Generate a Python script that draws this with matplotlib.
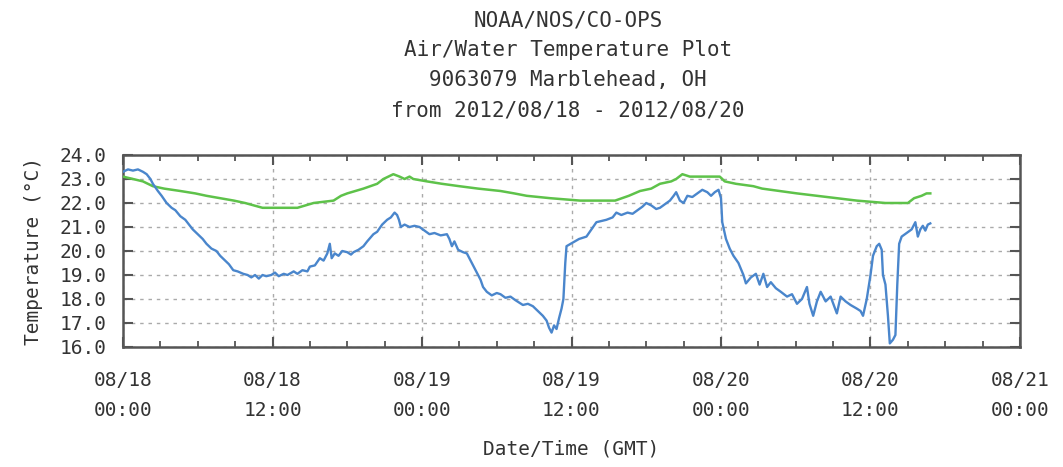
import numpy as np
import matplotlib
matplotlib.use('Agg')
import matplotlib.pyplot as plt
from matplotlib.ticker import MultipleLocator

# hours since 2012/08/18 00:00 GMT
air_t = [0.0, 0.4, 0.8, 1.2, 1.6, 1.9, 2.2, 2.4, 2.8, 3.1, 3.5, 3.9, 4.2, 4.6, 5.0, 5.3, 5.6, 6.0, 6.4, 6.7,
         7.1, 7.5, 7.8, 8.2, 8.5, 8.85, 9.2, 9.65, 10.0, 10.3, 10.6, 10.9, 11.2, 11.5, 11.9, 12.2, 12.5, 12.9,
         13.2, 13.7, 14.0, 14.4, 14.8, 15.0, 15.4, 15.8, 16.1, 16.4, 16.6, 16.75, 17.0, 17.3, 17.6, 18.0, 18.3,
         18.5, 18.9, 19.3, 19.6, 20.1, 20.4, 20.8, 21.2, 21.5, 21.8, 22.0, 22.15, 22.3, 22.6, 23.0, 23.4, 23.8,
         24.2, 24.6, 25.0, 25.5, 26.0, 26.2, 26.4, 26.6, 26.9, 27.3, 27.6, 28.0, 28.4, 28.7, 28.9, 29.2, 29.6,
         30.0, 30.3, 30.7, 31.1, 31.5, 32.1, 32.5, 32.9, 33.3, 33.7, 34.0, 34.2, 34.4, 34.6, 34.8, 35.0, 35.2,
         35.35, 35.5, 35.6, 36.1, 36.6, 37.2, 37.6, 38.0, 38.4, 38.8, 39.3, 39.6, 40.0, 40.5, 40.9, 41.3, 41.7,
         42.0, 42.4, 42.8, 43.1, 43.5, 43.9, 44.2, 44.4, 44.7, 45.0, 45.3, 45.7, 46.1, 46.5, 46.9, 47.2, 47.5,
         47.8, 48.0, 48.1, 48.4, 48.7, 49.0, 49.4, 49.8, 50.0, 50.4, 50.8, 51.1, 51.4, 51.7, 52.0, 52.4, 52.8,
         53.3, 53.7, 54.1, 54.5, 54.9, 55.1, 55.4, 55.7, 56.0, 56.4, 56.8, 57.3, 57.6, 58.0, 58.4, 58.9, 59.2,
         59.4, 59.7, 60.0, 60.2, 60.5, 60.7, 60.9, 61.0, 61.2, 61.4, 61.55, 61.8, 62.0, 62.15, 62.3, 62.5, 62.9,
         63.3, 63.6, 63.8, 64.0, 64.2, 64.4, 64.6, 64.8]
air_v = [23.3, 23.4, 23.35, 23.4, 23.3, 23.2, 23.0, 22.8, 22.5, 22.3, 22.0, 21.8, 21.7, 21.45, 21.3, 21.1, 20.9,
         20.7, 20.5, 20.3, 20.1, 20.0, 19.8, 19.6, 19.45, 19.2, 19.15, 19.05, 19.0, 18.9, 19.0, 18.85, 19.0,
         18.95, 19.0, 19.1, 18.95, 19.05, 19.0, 19.15, 19.05, 19.2, 19.15, 19.35, 19.4, 19.7, 19.6, 19.9, 20.3,
         19.7, 19.9, 19.8, 20.0, 19.95, 19.85, 19.95, 20.05, 20.2, 20.4, 20.7, 20.8, 21.1, 21.3, 21.4, 21.6,
         21.5, 21.3, 21.0, 21.1, 21.0, 21.05, 21.0, 20.85, 20.7, 20.75, 20.65, 20.7, 20.5, 20.2, 20.4, 20.05,
         19.95, 19.9, 19.5, 19.1, 18.8, 18.5, 18.3, 18.15, 18.25, 18.2, 18.05, 18.1, 17.95, 17.75, 17.8, 17.7,
         17.5, 17.3, 17.1, 16.8, 16.6, 16.9, 16.75, 17.2, 17.6, 18.0, 19.5, 20.2, 20.35, 20.5, 20.6, 20.9, 21.2,
         21.25, 21.3, 21.4, 21.6, 21.5, 21.6, 21.55, 21.7, 21.85, 22.0, 21.9, 21.75, 21.8, 21.95, 22.1, 22.3,
         22.45, 22.1, 22.0, 22.3, 22.25, 22.4, 22.55, 22.45, 22.3, 22.45, 22.55, 22.2, 21.2, 20.5, 20.1, 19.8,
         19.5, 19.0, 18.65, 18.9, 19.05, 18.6, 19.05, 18.5, 18.7, 18.45, 18.3, 18.1, 18.2, 17.8, 18.0, 18.5,
         17.8, 17.3, 17.9, 18.3, 17.9, 18.1, 17.4, 18.1, 17.9, 17.75, 17.6, 17.5, 17.3, 18.0, 19.0, 19.8, 20.2,
         20.3, 20.05, 19.0, 18.6, 17.3, 16.15, 16.3, 16.5, 18.6, 20.3, 20.6, 20.75, 20.9, 21.2, 20.6, 20.9,
         21.05, 20.85, 21.1, 21.15]

water_t = [0, 0.8, 1.6, 2.4, 3.3, 4.6, 5.8, 6.7, 7.8, 8.9, 9.8, 10.5, 11.2, 14.0, 15.3, 16.9, 17.5, 18.0, 19.3,
           20.4, 20.9, 21.3, 21.7, 22.2, 22.6, 23.0, 23.3, 24.4, 25.6, 27.0, 28.5, 30.3, 31.4, 32.4, 34.3, 36.7,
           39.5, 40.6, 41.5, 42.4, 43.1, 44.0, 44.4, 44.9, 45.5, 47.9, 48.3, 49.2, 50.6, 51.3, 52.7, 54.1, 55.7,
           57.3, 58.9, 61.2, 63.0, 63.5, 64.1, 64.5, 64.8]
water_v = [23.1, 23.0, 22.9, 22.7, 22.6, 22.5, 22.4, 22.3, 22.2, 22.1, 22.0, 21.9, 21.8, 21.8, 22.0, 22.1, 22.3,
           22.4, 22.6, 22.8, 23.0, 23.1, 23.2, 23.1, 23.0, 23.1, 23.0, 22.9, 22.8, 22.7, 22.6, 22.5, 22.4, 22.3,
           22.2, 22.1, 22.1, 22.3, 22.5, 22.6, 22.8, 22.9, 23.0, 23.2, 23.1, 23.1, 22.9, 22.8, 22.7, 22.6, 22.5,
           22.4, 22.3, 22.2, 22.1, 22.0, 22.0, 22.2, 22.3, 22.4, 22.4]

xticks = [0, 12, 24, 36, 48, 60, 72]
xlabels = ['08/18\n00:00', '08/18\n12:00', '08/19\n00:00', '08/19\n12:00',
           '08/20\n00:00', '08/20\n12:00', '08/21\n00:00']
yticks = np.arange(16, 25, 1)

title_lines = ['NOAA/NOS/CO-OPS', 'Air/Water Temperature Plot',
               '9063079 Marblehead, OH', 'from 2012/08/18 - 2012/08/20']

plt.rcParams['font.family'] = ['DejaVu Sans Mono']
txt = '#333333'
edge = '#555555'

fig = plt.figure(figsize=(10.63, 4.67), dpi=100)
ax = fig.add_axes([123 / 1063, 1 - 347 / 467, 897 / 1063, 192 / 467])

ax.plot(water_t, water_v, color='#5ec24a', lw=1.8, zorder=3)
ax.plot(air_t, air_v, color='#4a86cc', lw=1.7, zorder=4)

ax.set_xlim(0, 72)
ax.set_ylim(16, 24)
ax.set_xticks(xticks)
ax.set_xticklabels(xlabels, linespacing=1.75)
ax.xaxis.set_minor_locator(MultipleLocator(3))
ax.set_yticks(yticks)
ax.set_yticklabels(['%.1f' % v for v in yticks])

ax.grid(True, which='major', color='#aaaaaa', lw=1.0, linestyle=(0, (2.5, 3.5)))
ax.tick_params(axis='both', which='major', direction='in', length=7, width=1.5, color=edge,
               labelsize=14, labelcolor=txt, top=True, right=True)
ax.tick_params(axis='x', which='minor', direction='in', length=4, width=1.3, color=edge, top=True)
ax.tick_params(axis='x', which='major', pad=17)
ax.tick_params(axis='y', which='major', pad=12)
for s in ax.spines.values():
    s.set_color(edge)
    s.set_linewidth(1.8)

ax.set_xlabel('Date/Time (GMT)', fontsize=14, color=txt, labelpad=14)
ax.set_ylabel('Temperature (°C)', fontsize=14, color=txt, labelpad=12)

for i, line in enumerate(title_lines):
    fig.text(568 / 1063, 1 - (20 + 30 * i) / 467, line, ha='center', va='center',
             fontsize=15, color=txt)

fig.savefig('out.png', dpi=100)
